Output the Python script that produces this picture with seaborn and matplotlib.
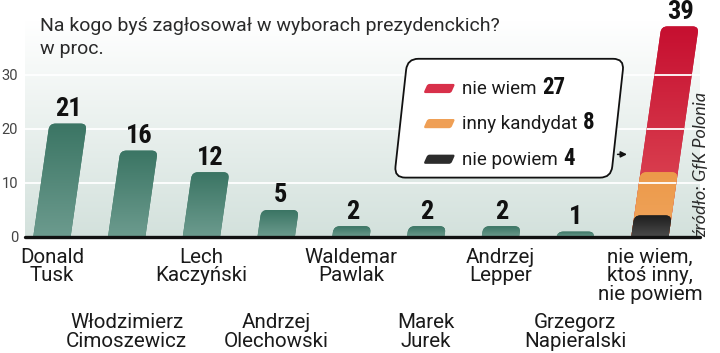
import numpy as np
import pandas as pd
import seaborn as sns
import matplotlib.pyplot as plt
from matplotlib import font_manager
from matplotlib.patches import FancyBboxPatch
from matplotlib.transforms import Affine2D
from matplotlib.colors import LinearSegmentedColormap
from matplotlib.offsetbox import TextArea, HPacker, AnnotationBbox

# data
names = ["Donald\nTusk", "Włodzimierz\nCimoszewicz", "Lech\nKaczyński",
         "Andrzej\nOlechowski", "Waldemar\nPawlak", "Marek\nJurek",
         "Andrzej\nLepper", "Grzegorz\nNapieralski",
         "nie wiem,\nktoś inny,\nnie powiem"]
support = [21, 16, 12, 5, 2, 2, 2, 1]
other_labels = ["nie wiem", "inny kandydat", "nie powiem"]
other_values = [27, 8, 4]
yticks = [0, 10, 20, 30]

title = "Na kogo byś zagłosował w wyborach prezydenckich?"
subtitle = "w proc."
source = "źródło: GfK Polonia"

green = ["#3b7564", "#6c9b8e"]
other_colors = [["#c60f30", "#e0505a"], ["#ec9a4a", "#f0a45c"], ["#1e1e1e", "#4a4a4a"]]
swatch_colors = ["#d8304a", "#ef9f55", "#2c2c2c"]

sns.set_theme(style="white")
plt.rcParams['font.family'] = ['Roboto', 'DejaVu Sans']

# a narrow bold face for the numbers, if one is installed
avail = font_manager.fontManager.ttflist
fam_names = {f.name for f in avail}
if "Roboto Condensed" in fam_names:
    num_font = dict(family="Roboto Condensed", fontweight="bold")
elif "Liberation Sans Narrow" in fam_names:
    num_font = dict(family="Liberation Sans Narrow", fontweight="bold")
elif any(f.name == "DejaVu Sans" and f.stretch == "condensed" for f in avail):
    num_font = dict(family="DejaVu Sans", fontstretch="condensed", fontweight="bold")
else:
    num_font = dict(family="Roboto", fontweight="bold")

W, H = 720, 353
fig = plt.figure(figsize=(7.2, 3.53), dpi=100)
ax_px = (25, 116, 675, 216)
ax = fig.add_axes([ax_px[0] / W, ax_px[1] / H, ax_px[2] / W, ax_px[3] / H])

xlim = (-0.36, 8.67)
ylim = (0, 40)
px_x = ax_px[2] / (xlim[1] - xlim[0])
px_y = ax_px[3] / (ylim[1] - ylim[0])


def skew(k, y0=0.0):
    # slant of k pixels sideways per pixel up, in data units
    s = k * px_y / px_x
    return Affine2D(np.array([[1, s, -s * y0], [0, 1, 0], [0, 0, 1]])), s


bar_skew, s_bar = skew(0.143)

# bars through seaborn
df = pd.DataFrame({"name": names[:8], "value": support})
sns.barplot(data=df, x="name", y="value", order=names, color=green[0],
            saturation=1, width=0.5, ax=ax)
groups = [green] * len(ax.patches)

tops = np.cumsum(other_values[::-1])[::-1]
for top, cols in zip(tops, other_colors):
    sns.barplot(x=[names[-1]], y=[top], order=names, color=cols[0],
                saturation=1, width=0.5, ax=ax)
    groups += [cols] * (len(ax.patches) - len(groups))

ax.set_xlim(*xlim)
ax.set_ylim(*ylim)

# background gradient
bg = LinearSegmentedColormap.from_list("bg", ["#d3e1dc", "#ffffff"])
ax.imshow(np.linspace(0, 1, 256).reshape(-1, 1), extent=(0, 1, 0, 1),
          transform=ax.transAxes, cmap=bg, aspect="auto", origin="lower", zorder=0)
for y in yticks[1:]:
    ax.axhline(y, color="white", lw=1.3, zorder=1)

# turn seaborn rectangles into slanted, rounded bars with gradient
rad = 6 / px_x
asp = px_x / px_y
grad = np.linspace(0, 1, 128).reshape(-1, 1)
rects = list(ax.patches)
new_bars = []
for i, (r, cols) in enumerate(zip(rects, groups)):
    x, w, h = r.get_x(), r.get_width(), r.get_height()
    r.remove()
    if not h or np.isnan(h):
        continue
    z = 2 + 0.2 * i
    p = FancyBboxPatch((x, -3), w, h + 3, boxstyle=f"round,pad=0,rounding_size={rad}",
                       mutation_aspect=asp, transform=bar_skew + ax.transData,
                       fc=cols[0], ec="none", zorder=z)
    ax.add_patch(p)
    cm = LinearSegmentedColormap.from_list(f"c{i}", [cols[1], cols[0]])
    im = ax.imshow(grad, extent=(x - 0.1, x + w + s_bar * h + 0.1, 0, h), cmap=cm,
                   aspect="auto", origin="lower", zorder=z + 0.01)
    im.set_clip_path(p)
    new_bars.append((p, z))

ax.set_xlim(*xlim)
ax.set_ylim(*ylim)

# white gridlines over the stacked bar
red_patch, red_z = new_bars[len(support)]
for y in yticks[1:]:
    ln = ax.axhline(y, color="white", lw=1.3, zorder=2 + 0.2 * (len(support) + 1) + 0.1)
    ln.set_clip_path(red_patch)

ax.axhline(0, color="#111111", lw=2.4, zorder=6, clip_on=False)

# value labels
vals = support + [int(sum(other_values))]
for i, v in enumerate(vals):
    ax.text(i + s_bar * v, v + 1.4, str(v), ha="center", va="baseline",
            fontsize=19, color="#111111", zorder=7, **num_font)

# category labels in two staggered rows
for i, n in enumerate(names):
    off = -8 if i % 2 == 0 else -55
    ax.annotate(n, xy=(i, 0), xytext=(0, off), textcoords="offset points",
                ha="center", va="top", fontsize=14.8, linespacing=0.95,
                color="#1a1a1a", annotation_clip=False)

# axes styling
ax.set_xticks([])
ax.set_yticks(yticks)
ax.set_yticklabels([str(t) for t in yticks])
ax.tick_params(axis="y", length=0, pad=5, labelsize=10.5, labelcolor="#444444")
ax.set_xlabel("")
ax.set_ylabel("")
for sp in ax.spines.values():
    sp.set_visible(False)
ax.grid(False)

# legend box
bx, by, bw, bh = 4.58, 11.0, 2.9, 22.0
box_skew, _ = skew(0.11, by)
ax.add_patch(FancyBboxPatch((bx, by), bw, bh, boxstyle=f"round,pad=0,rounding_size={11 / px_x}",
                            mutation_aspect=asp, transform=box_skew + ax.transData,
                            fc="white", ec="#111111", lw=1.3, zorder=8))
rows_y = [27.5, 21.0, 14.4]
sw_x, sw_w, sw_h = 4.97, 0.37, 1.7
for lab, val, col, ry in zip(other_labels, other_values, swatch_colors, rows_y):
    sk, _ = skew(0.45, ry - sw_h / 2)
    ax.add_patch(FancyBboxPatch((sw_x, ry - sw_h / 2), sw_w, sw_h,
                                boxstyle=f"round,pad=0,rounding_size={2 / px_x}",
                                mutation_aspect=asp, transform=sk + ax.transData,
                                fc=col, ec="none", zorder=9))
    pack = HPacker(children=[
        TextArea(lab, textprops=dict(fontsize=13.5, color="#1a1a1a")),
        TextArea(str(val), textprops=dict(fontsize=16.5, color="#111111", **num_font))],
        align="baseline", sep=4, pad=0)
    ab = AnnotationBbox(pack, (5.49, ry), box_alignment=(0, 0.45), frameon=False,
                        zorder=9, annotation_clip=False)
    ax.add_artist(ab)

ax.annotate("", xy=(7.73, 15.3), xytext=(7.53, 15.3),
            arrowprops=dict(arrowstyle="-|>", color="#111111", lw=1.1, mutation_scale=9),
            zorder=9)

# title and source
fig.text(40 / W, 1 - 31 / H, title, fontsize=14, color="#2a2a2a", va="baseline")
fig.text(40 / W, 1 - 54 / H, subtitle, fontsize=14, color="#2a2a2a", va="baseline")
fig.text(701 / W, 1 - 237 / H, source, rotation=90, ha="center", va="bottom",
         fontsize=13, style="italic", family=["Lato", "DejaVu Sans"], color="#2a2a2a")

fig.savefig("out.png", dpi=100)
